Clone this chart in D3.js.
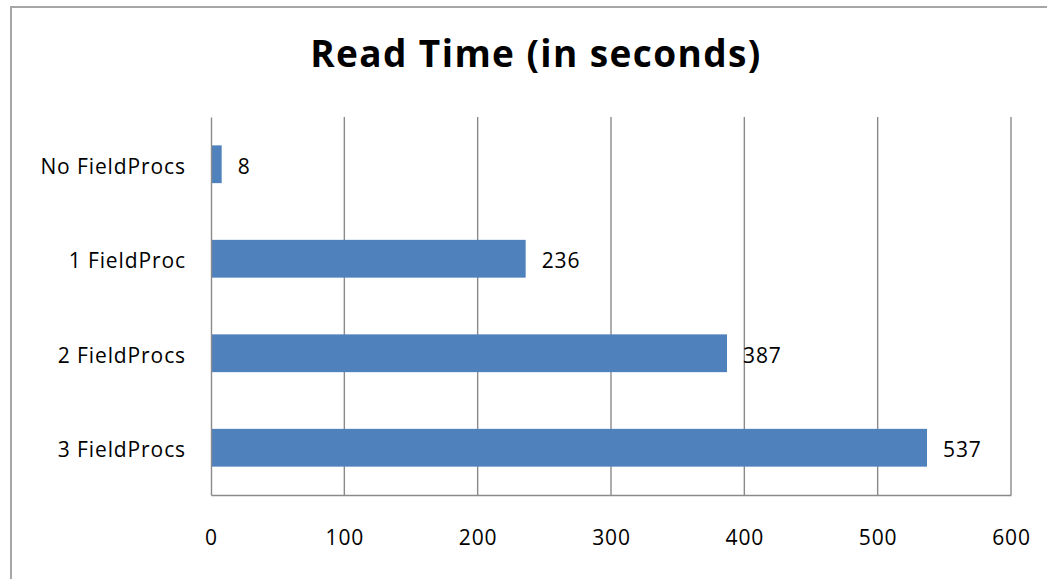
<!DOCTYPE html>
<html>
<head>
<meta charset="utf-8">
<script src="https://cdn.jsdelivr.net/npm/d3@7"></script>
<style>
  html, body { margin: 0; padding: 0; background: #fff; }
  svg { display: block; }
  text { font-family: "Open Sans", Lato, sans-serif; fill: #000; }
</style>
</head>
<body>
<svg id="chart" width="1047" height="579"></svg>
<script>
// Read time per configuration, in seconds
const categories = ["No FieldProcs", "1 FieldProc", "2 FieldProcs", "3 FieldProcs"];
const readTimes = [8, 236, 387, 537];
const xTicks = [0, 100, 200, 300, 400, 500, 600];
const chartTitle = "Read Time (in seconds)";

const width = 1047, height = 579;
const plot = { left: 211, right: 1011, top: 117, bottom: 495 };
const barColor = "#4F81BD";
const gridColor = "#8a8a8a";
const labelFont = "\"Open Sans\", Lato, sans-serif";
const labelSize = "21px";
const labelSpacing = "0.9px";

const svg = d3.select("#chart");

// Outer chart frame (extends past the right and bottom edges)
svg.append("rect")
  .attr("x", 11).attr("y", 7)
  .attr("width", width + 20).attr("height", height + 20)
  .attr("fill", "#fff")
  .attr("stroke", "#a6a6a6")
  .attr("stroke-width", 2);

const x = d3.scaleLinear().domain([0, 600]).range([plot.left, plot.right]);
const y = d3.scaleBand().domain(categories).range([plot.top, plot.bottom]).padding(0);
const barH = y.bandwidth() * 0.4;

// Title
svg.append("text")
  .attr("x", 536).attr("y", 67)
  .attr("text-anchor", "middle")
  .style("font-size", "37px")
  .style("font-weight", "bold")
  .style("letter-spacing", "1.4px")
  .text(chartTitle);

// Vertical gridlines
svg.append("g").selectAll("line")
  .data(xTicks.slice(1))
  .join("line")
  .attr("x1", d => x(d)).attr("x2", d => x(d))
  .attr("y1", plot.top).attr("y2", plot.bottom)
  .attr("stroke", gridColor).attr("stroke-width", 1.4);

// Bars
svg.append("g").selectAll("rect")
  .data(categories)
  .join("rect")
  .attr("x", x(0))
  .attr("y", d => y(d) + (y.bandwidth() - barH) / 2)
  .attr("width", (d, i) => x(readTimes[i]) - x(0))
  .attr("height", barH)
  .attr("fill", barColor);

// Value labels
svg.append("g").selectAll("text")
  .data(categories)
  .join("text")
  .attr("x", (d, i) => x(readTimes[i]) + 16)
  .attr("y", d => y(d) + y.bandwidth() / 2 + 9.5)
  .style("font-size", labelSize)
  .style("letter-spacing", labelSpacing)
  .text((d, i) => readTimes[i]);

// Category axis (left)
const yAxis = svg.append("g")
  .attr("transform", `translate(${plot.left},0)`)
  .call(d3.axisLeft(y).tickSize(0).tickPadding(25));
yAxis.select(".domain").attr("stroke", gridColor).attr("stroke-width", 1.4);
yAxis.selectAll("text")
  .attr("dy", null)
  .attr("y", 9.5)
  .style("font-size", labelSize)
  .style("font-family", labelFont)
  .style("letter-spacing", labelSpacing)
  .attr("fill", "#000");

// Value axis (bottom)
const xAxis = svg.append("g")
  .attr("transform", `translate(0,${plot.bottom})`)
  .call(d3.axisBottom(x).tickValues(xTicks).tickSize(0).tickPadding(0));
xAxis.select(".domain").attr("stroke", gridColor).attr("stroke-width", 1.4);
xAxis.selectAll("text")
  .attr("dy", null)
  .attr("y", 50)
  .style("font-size", labelSize)
  .style("font-family", labelFont)
  .style("letter-spacing", labelSpacing)
  .attr("fill", "#000");
</script>
</body>
</html>
